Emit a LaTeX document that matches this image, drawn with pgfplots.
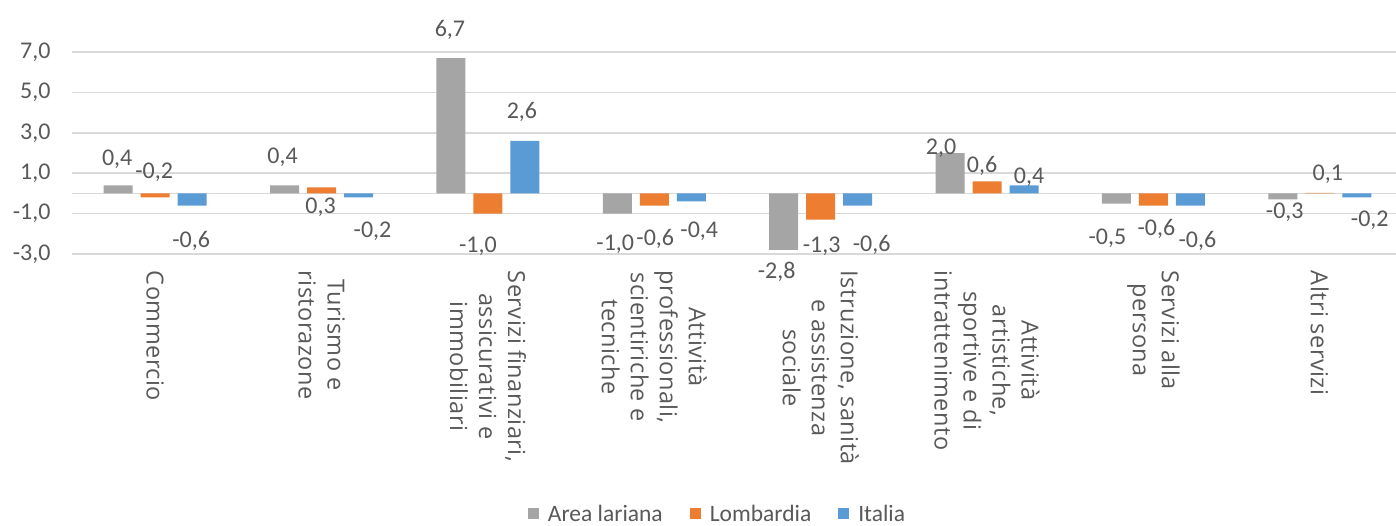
\documentclass[border=0pt]{standalone}
\usepackage{pgfplots}
\usepackage{pgfplotstable}
\pgfplotsset{compat=1.18}
\usepackage{fontspec}
\setmainfont{Carlito}
\newfontfamily\catfont[LetterSpace=2]{Open Sans}
\definecolor{cgray}{HTML}{A5A5A5}
\definecolor{corange}{HTML}{ED7D31}
\definecolor{cblue}{HTML}{5B9BD5}
\definecolor{ctext}{HTML}{595959}
\definecolor{cgrid}{HTML}{D9D9D9}

\pgfplotstableread{
x y lab dx dy
0 0.4 0.4 -1 19.9
1 0.4 0.4 -2 21.9
2 6.7 6.7 -1 21.7
3 -1.0 -1.0 -2 -36.8
4 -2.8 -2.8 -7 -28.4
5 2.0 2.0 -9 -1.4
6 -0.5 -0.5 -9 -40.9
7 -0.3 -0.3 2 -18.9
}\arealariana

\pgfplotstableread{
x y lab dx dy
0 -0.2 -0.2 -1 19
1 0.3 0.3 -1 -26.1
2 -1.0 -1.0 -10 -38.8
3 -0.6 -0.6 1 -39.9
4 -1.3 -1.3 1 -32.7
5 0.6 0.6 -5 8.9
6 -0.6 -0.6 3 -29.9
7 0.03 0.1 8 12
}\lombardia

\pgfplotstableread{
x y lab dx dy
0 -0.6 -0.6 -1 -41.9
1 -0.2 -0.2 14 -40
2 2.6 2.6 -3 22.5
3 -0.4 -0.4 8 -35.9
4 -0.6 -0.6 14 -45.9
5 0.4 0.4 5 1.9
6 -0.6 -0.6 7 -41.9
7 -0.2 -0.2 13 -29
}\italia

\pgfplotsset{
  mylegend/.style={legend image code/.code={\fill[#1] (0pt,-5pt) rectangle (11pt,6pt);}}
}

\begin{document}
\begin{tikzpicture}
\useasboundingbox (0,0) rectangle (1396pt,525pt);
\begin{axis}[
  at={(72pt,271pt)}, anchor=south west,
  scale only axis, width=1331pt, height=202pt,
  ymin=-3, ymax=7, xmin=-0.5, xmax=7.5,
  clip=false,
  ybar=8pt, bar width=29pt,
  ytick={-3,-1,1,3,5,7},
  ymajorgrids, grid style={cgrid, line width=1.6pt},
  extra y ticks={0}, extra y tick labels={}, extra y tick style={grid=major},
  xtick={0,...,7},
  xticklabels={Commercio, {Turismo e\\ristorazone}, {Servizi finanziari,\\assicurativi e\\immobiliari}, {Attività\\professionali,\\scientiriche e\\tecniche}, {Istruzione, sanità\\e assistenza\\sociale}, {Attività\\artistiche,\\sportive e di\\intrattenimento}, {Servizi alla\\persona}, {Altri servizi}},
  xticklabel shift=9pt,
  xticklabel style={rotate=-90, anchor=west, align=center, font=\catfont\fontsize{23.5}{29}\selectfont, text=ctext},
  yticklabel style={font=\fontsize{24}{28}\selectfont, text=ctext, xshift=-18pt},
  y tick label style={/pgf/number format/.cd, fixed, fixed zerofill, precision=1, use comma, assume math mode=true},
  axis line style={draw=none}, tick style={draw=none},
  point meta=explicit,
  nodes near coords={\pgfmathprintnumber[fixed,fixed zerofill,precision=1,use comma,assume math mode=true]{\pgfplotspointmeta}},
  visualization depends on={\thisrow{dx}\as\dx},
  visualization depends on={\thisrow{dy}\as\dy},
  nodes near coords style={anchor=base, xshift=\dx pt, yshift=\dy pt, font=\fontsize{24}{28}\selectfont, text=ctext, inner sep=0pt},
  mylegend,
  legend style={at={(0.485,-1.287)}, anchor=center, draw=none, legend columns=3, font=\fontsize{23.5}{28}\selectfont, text=ctext, /tikz/every odd column/.append style={column sep=7pt}, /tikz/every even column/.append style={column sep=25pt}},
]
\addplot[fill=cgray, draw=none] table[x=x, y=y, meta=lab] {\arealariana};
\addplot[fill=corange, draw=none] table[x=x, y=y, meta=lab] {\lombardia};
\addplot[fill=cblue, draw=none] table[x=x, y=y, meta=lab] {\italia};
\legend{Area lariana, Lombardia, Italia}
\end{axis}
\end{tikzpicture}
\end{document}
